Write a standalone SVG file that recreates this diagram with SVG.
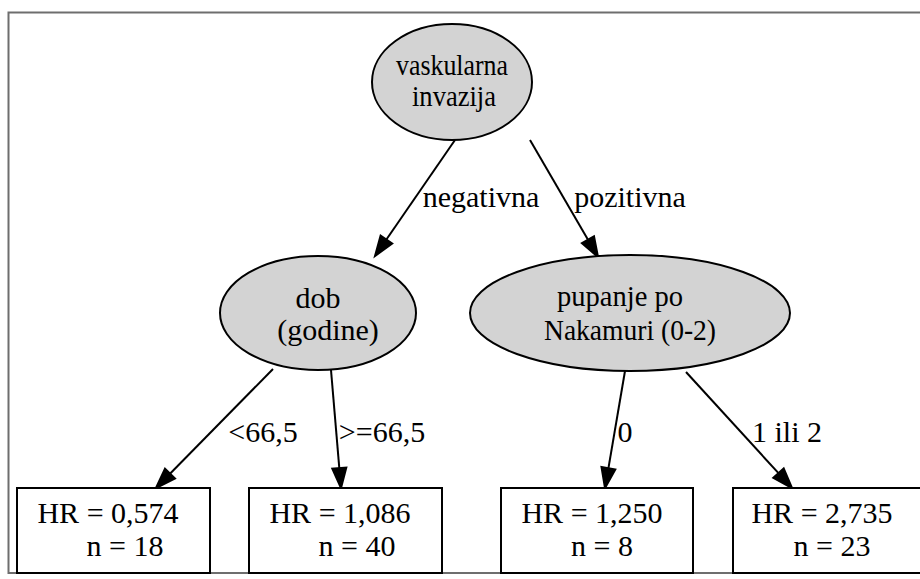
<svg xmlns="http://www.w3.org/2000/svg" width="920" height="579" viewBox="0 0 920 579">
<style>
text { font-family: "Liberation Serif", "Times New Roman", serif; font-size: 30px; fill: #000; text-anchor: middle; }
.node ellipse { fill: #d3d3d3; stroke: #000; stroke-width: 2; }
.node rect { fill: #fff; stroke: #000; stroke-width: 2; }
.edge line { stroke: #000; stroke-width: 2; }
.edge polygon { fill: #000; stroke: #000; stroke-width: 2; }
</style>
<rect x="0" y="0" width="920" height="579" fill="#fff"/>
<rect x="8.5" y="12.5" width="930" height="560.5" fill="none" stroke="#6e6e6e" stroke-width="2"/>
<g id="edges" class="edge">
  <line x1="455" y1="140" x2="386.4" y2="239.5"/>
  <polygon points="375,256 380.6,235.5 392.2,243.5"/>
  <text x="481" y="207">negativna</text>
  <line x1="530" y1="140" x2="588" y2="239.7"/>
  <polygon points="598,257 581.9,243.2 594,236.2"/>
  <text x="630" y="207">pozitivna</text>
  <line x1="273" y1="369" x2="170" y2="473.7"/>
  <polygon points="156,488 165,468.8 175,478.6"/>
  <text x="263" y="442">&lt;66,5</text>
  <line x1="331" y1="370" x2="339.3" y2="468.1"/>
  <polygon points="341,488 332.3,468.7 346.3,467.5"/>
  <text x="382" y="442">&gt;=66,5</text>
  <line x1="625" y1="371" x2="608.4" y2="468.3"/>
  <polygon points="605,488 601.5,467.1 615.3,469.5"/>
  <text x="625" y="442">0</text>
  <line x1="686" y1="372" x2="778.5" y2="473.2"/>
  <polygon points="792,488 773.3,477.9 783.7,468.5"/>
  <text x="787" y="442">1 ili 2</text>
</g>
<g id="root" class="node">
  <ellipse cx="452" cy="82" rx="80" ry="58"/>
  <text x="452" y="75" textLength="112" lengthAdjust="spacingAndGlyphs">vaskularna</text>
  <text x="454" y="106" textLength="84" lengthAdjust="spacingAndGlyphs">invazija</text>
</g>
<g id="dob" class="node">
  <ellipse cx="318" cy="313" rx="98" ry="57"/>
  <text x="318" y="308">dob</text>
  <text x="328" y="340">(godine)</text>
</g>
<g id="pupanje" class="node">
  <ellipse cx="630" cy="313" rx="160" ry="58"/>
  <text x="620" y="306" textLength="126" lengthAdjust="spacingAndGlyphs">pupanje po</text>
  <text x="630" y="340" textLength="172" lengthAdjust="spacingAndGlyphs">Nakamuri (0-2)</text>
</g>
<g id="leaf1" class="node">
  <rect x="17" y="488" width="193" height="85"/>
  <text x="108" y="523">HR = 0,574</text>
  <text x="125" y="556">n = 18</text>
</g>
<g id="leaf2" class="node">
  <rect x="249" y="488" width="193" height="85"/>
  <text x="340" y="523">HR = 1,086</text>
  <text x="357" y="556">n = 40</text>
</g>
<g id="leaf3" class="node">
  <rect x="501" y="488" width="192" height="85"/>
  <text x="592" y="523">HR = 1,250</text>
  <text x="602" y="556">n = 8</text>
</g>
<g id="leaf4" class="node">
  <rect x="733" y="488" width="193" height="85"/>
  <text x="822" y="523">HR = 2,735</text>
  <text x="832" y="556">n = 23</text>
</g>
</svg>
